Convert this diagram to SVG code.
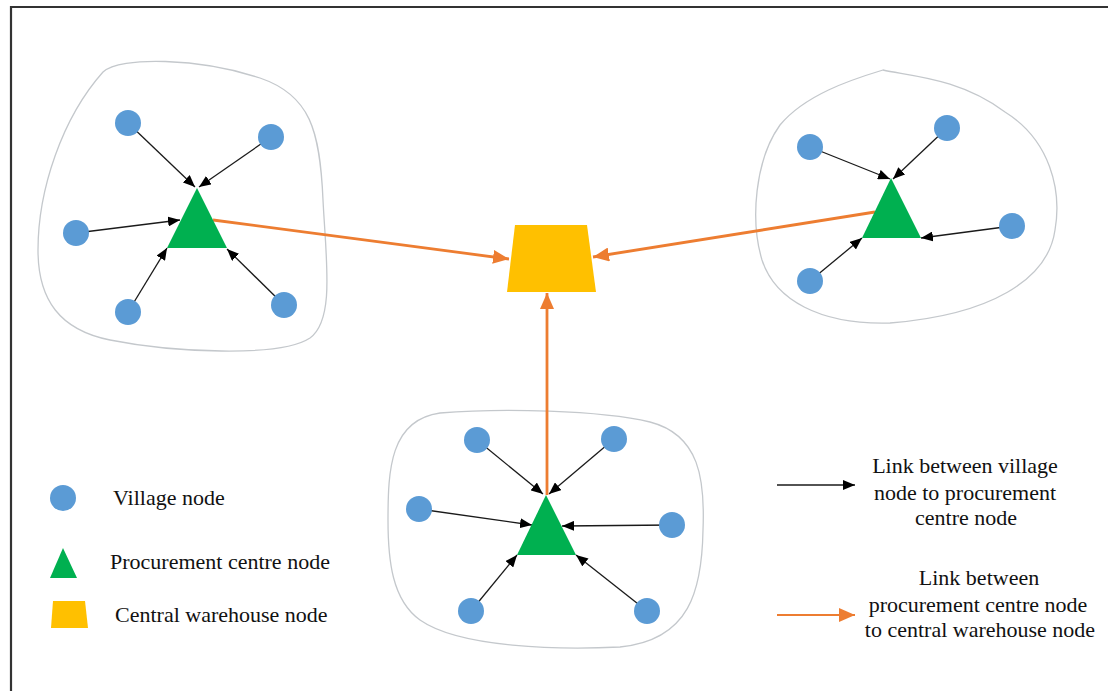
<svg xmlns="http://www.w3.org/2000/svg" width="1108" height="691" viewBox="0 0 1108 691">
<style>
.blob{fill:none;stroke:#C4C8CC;stroke-width:1.3}
.village{fill:#5B9BD5}
.pc{fill:#00B050}
.wh{fill:#FFC000}
.bl{stroke:#1a1a1a;stroke-width:1.3;fill:none;marker-end:url(#ab)}
.or{stroke:#ED7D31;stroke-width:2.8;fill:none;marker-end:url(#ao)}
.t{font-family:"Liberation Serif","Times New Roman",serif;font-size:22px;fill:#111}
</style>
<defs>
<marker id="ab" markerUnits="userSpaceOnUse" markerWidth="12" markerHeight="10" refX="12" refY="5" orient="auto"><path d="M0,0 L12,5 L0,10 z" fill="#000"/></marker>
<marker id="ao" markerUnits="userSpaceOnUse" markerWidth="16" markerHeight="14" refX="16" refY="7" orient="auto"><path d="M0,0 L16,7 L0,14 z" fill="#ED7D31"/></marker>
</defs>
<rect width="1108" height="691" fill="#fff"/>
<path d="M11,700 L11,7 L1120,7" fill="none" stroke="#333" stroke-width="2.2"/>
<g id="clusters">
<path class="blob" d="M103,72 C120,56 200,58 260,78 C310,95 320,130 323,200 C326,260 335,320 310,338 C280,358 170,352 110,340 C60,330 38,300 38,250 C38,190 62,118 103,72 Z"/>
<path class="blob" d="M883,70 C910,76 960,78 1005,112 C1050,140 1062,190 1055,230 C1048,280 990,315 890,323 C820,325 775,300 762,260 C750,220 755,160 780,125 C805,95 850,80 883,70 Z"/>
<path class="blob" d="M440,413 C500,408 600,410 650,422 C700,435 705,480 703,530 C702,590 690,640 620,647 C560,650 460,648 420,620 C392,600 388,560 388,520 C388,470 390,420 440,413 Z"/>
</g>
<g id="connectors">
<line class="bl" x1="128" y1="123" x2="195" y2="187"/>
<line class="bl" x1="271" y1="137" x2="199" y2="187"/>
<line class="bl" x1="76" y1="233" x2="180" y2="220"/>
<line class="bl" x1="128" y1="312" x2="167" y2="248"/>
<line class="bl" x1="284" y1="305" x2="227" y2="249"/>
<line class="bl" x1="810" y1="147" x2="890" y2="179"/>
<line class="bl" x1="947" y1="128" x2="893" y2="179"/>
<line class="bl" x1="1012" y1="226" x2="921" y2="238"/>
<line class="bl" x1="810" y1="281" x2="862" y2="238"/>
<line class="bl" x1="477" y1="440" x2="543" y2="494"/>
<line class="bl" x1="614" y1="439" x2="549" y2="494"/>
<line class="bl" x1="419" y1="509" x2="532" y2="525"/>
<line class="bl" x1="672" y1="525" x2="562" y2="526"/>
<line class="bl" x1="471" y1="611" x2="517" y2="555"/>
<line class="bl" x1="647" y1="611" x2="576" y2="555"/>
<line class="or" x1="213" y1="220" x2="509" y2="259"/>
<line class="or" x1="875" y1="212" x2="593" y2="257"/>
<line class="or" x1="547" y1="495" x2="547" y2="293"/>
<line class="bl" x1="777" y1="485" x2="855" y2="485"/>
<line class="or" x1="777" y1="615" x2="855" y2="615" style="stroke-width:1.8"/>
</g>
<g id="left-cluster">
<circle class="village" cx="128" cy="123" r="13"/>
<circle class="village" cx="271" cy="137" r="13"/>
<circle class="village" cx="76" cy="233" r="13"/>
<circle class="village" cx="128" cy="312" r="13"/>
<circle class="village" cx="284" cy="305" r="13"/>
<polygon class="pc" points="197,188 167,248 227,248"/>
</g>
<g id="right-cluster">
<circle class="village" cx="810" cy="147" r="13"/>
<circle class="village" cx="947" cy="128" r="13"/>
<circle class="village" cx="1012" cy="226" r="13"/>
<circle class="village" cx="810" cy="281" r="13"/>
<polygon class="pc" points="891,178 862,238 921,238"/>
</g>
<g id="bottom-cluster">
<circle class="village" cx="477" cy="440" r="13"/>
<circle class="village" cx="614" cy="439" r="13"/>
<circle class="village" cx="419" cy="509" r="13"/>
<circle class="village" cx="672" cy="525" r="13"/>
<circle class="village" cx="471" cy="611" r="13"/>
<circle class="village" cx="647" cy="611" r="13"/>
<polygon class="pc" points="546,495 517,555 576,555"/>
</g>
<g id="warehouse">
<polygon class="wh" points="515,225 587,225 596,292 507,292"/>
</g>
<g id="legend">
<circle class="village" cx="63" cy="498" r="13"/>
<text class="t" x="113" y="505">Village node</text>
<polygon class="pc" points="63,548 50,578 77,578"/>
<text class="t" x="110" y="569">Procurement centre node</text>
<polygon class="wh" points="53,601 85,601 88,628 51,628"/>
<text class="t" x="115" y="622">Central warehouse node</text>
<text class="t" text-anchor="middle" x="965" y="473">Link between village</text>
<text class="t" text-anchor="middle" x="965" y="500">node to procurement</text>
<text class="t" text-anchor="middle" x="966" y="525">centre node</text>
<text class="t" text-anchor="middle" x="979" y="585">Link between</text>
<text class="t" text-anchor="middle" x="978" y="612">procurement centre node</text>
<text class="t" text-anchor="middle" x="980" y="637">to central warehouse node</text>
</g>
</svg>
